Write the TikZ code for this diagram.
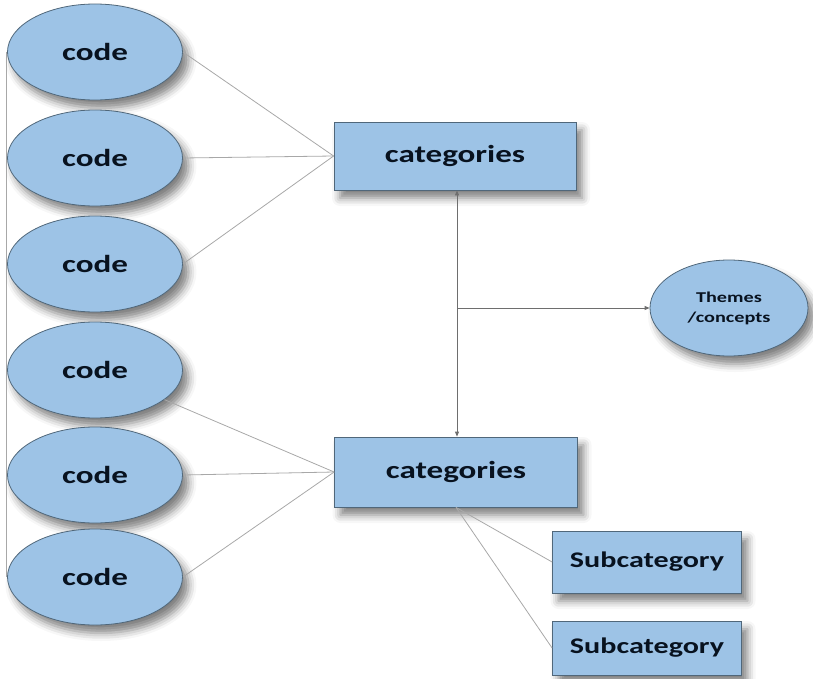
\documentclass[tikz,border=0pt]{standalone}
\usepackage{fontspec}
\setmainfont{Carlito}
\newfontfamily\labfont[FakeStretch=1.35]{Carlito}
\usepackage{tikz}
\usetikzlibrary{shapes.geometric,positioning,calc,arrows.meta,shadows.blur}
\definecolor{nodebg}{HTML}{9DC3E6}
\definecolor{nodeline}{HTML}{50677A}
\definecolor{labtext}{HTML}{08121F}
\definecolor{wire}{HTML}{A8A8A8}
\definecolor{arrowgray}{HTML}{6E6E6E}

\begin{document}
\begin{tikzpicture}[x=1pt, y=-1pt,
  soft/.style={blur shadow={shadow xshift=6pt, shadow yshift=-8pt, shadow blur radius=8pt, shadow opacity=50}},
  codenode/.style={ellipse, draw=nodeline, thick, fill=nodebg, soft, minimum width=175pt, minimum height=96pt, inner sep=0pt, text=labtext, font=\labfont\fontsize{24.5}{26}\selectfont\bfseries},
  catbox/.style={rectangle, draw=nodeline, thick, fill=nodebg, soft, inner sep=0pt, text=labtext, font=\labfont\fontsize{24.5}{26}\selectfont\bfseries},
  wireline/.style={draw=wire, line width=0.8pt},
  tip/.style={draw=arrowgray, line width=0.8pt}]
  \useasboundingbox (0,0) rectangle (813,679);

  % Codes
  \foreach \i/\y in {1/52, 2/158, 3/264, 4/370, 5/475, 6/577} {
    \node[codenode] (code\i) at (95,\y) {code};
  }

  % Categories
  \node[catbox, minimum width=242pt, minimum height=68pt] (cat1) at (455,156) {categories};
  \node[catbox, minimum width=243pt, minimum height=70pt] (cat2) at (456,472) {categories};

  % Themes
  \node[codenode, minimum width=158pt, minimum height=96pt, align=center, font=\labfont\fontsize{15}{20}\selectfont\bfseries] (themes) at (729,308) {Themes\\/concepts};

  % Subcategories
  \node[catbox, minimum width=189pt, minimum height=62pt, font=\labfont\fontsize{22.3}{24}\selectfont\bfseries] (sub1) at (647,562) {Subcategory};
  \node[catbox, minimum width=189pt, minimum height=54pt, font=\labfont\fontsize{22.3}{24}\selectfont\bfseries] (sub2) at (647,648) {Subcategory};

  % Left rail
  \draw[wireline] ($(code1.west)+(-1,0)$) -- ($(code6.west)+(-1,0)$);

  % Codes to categories
  \draw[wireline] (code1.east) -- (cat1.west);
  \draw[wireline] (code2.east) -- (cat1.west);
  \draw[wireline] (code3.east) -- (cat1.west);
  \draw[wireline] (code4) -- (cat2.west);
  \draw[wireline] (code5.east) -- (cat2.west);
  \draw[wireline] (code6.east) -- (cat2.west);

  % Between categories
  \draw[tip, {Triangle[length=5pt,width=4pt]}-{Triangle[length=5pt,width=4pt]}] (cat1.south -| 457,0) -- (cat2.north -| 457,0);
  \coordinate (branch) at (457,308);
  \draw[tip, -{Triangle[length=5pt,width=4pt]}] (branch) -- (themes.west);

  % Subcategories
  \draw[wireline] (cat2.south) -- (sub1.west);
  \draw[wireline] (cat2.south) -- (sub2.west);
\end{tikzpicture}
\end{document}
